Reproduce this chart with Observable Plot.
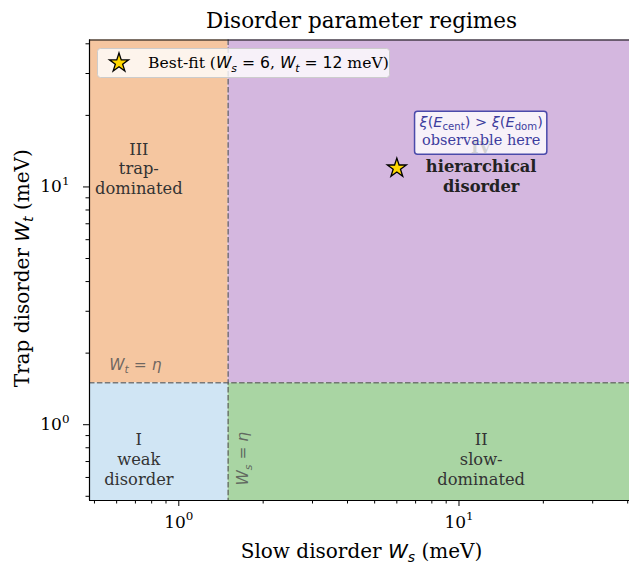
<!DOCTYPE html>
<html><head><meta charset="utf-8">
<script src="https://cdn.jsdelivr.net/npm/d3@7"></script>
<script src="https://cdn.jsdelivr.net/npm/@observablehq/plot@0.6"></script>
<style>
html,body{margin:0;padding:0;background:#fff;overflow:hidden}
svg{display:block}
</style></head><body><div id="chart"></div>
<script>
// ---- data ----
const eta = 1.5;
const xDomain = [0.48, 40.6];
const yDomain = [0.48, 41.5];
const regionIds = ["I", "II", "III", "IV"];
const regionNames = ["weak\ndisorder", "slow-\ndominated", "trap-\ndominated", "hierarchical\ndisorder"];
const regionColors = ["#d0e5f4", "#a9d5a3", "#f5c6a0", "#d4b7df"];
const regionLabelX = [0.72, 12, 0.72, 12];
const regionLabelY = [0.72, 0.72, 12, 12];
const bestFit = [{ws: 6, wt: 12}];
const majorTicks = [1, 10];
const minorTicks = [0.5, 0.6, 0.7, 0.8, 0.9, 2, 3, 4, 5, 6, 7, 8, 9, 20, 30, 40];
const titleText = "Disorder parameter regimes";
const xLabel = "Slow disorder W_s (meV)";
const yLabel = "Trap disorder W_t (meV)";
const annotLine1 = "ξ(E_cent) > ξ(E_dom)";
const annotLine2 = "observable here";
const annotPos = [{x: 12, y: 17.1}];
const legendLabel = "Best-fit (W_s = 6, W_t = 12 meV)";

// ---- derived tables ----
const lo = [xDomain[0], yDomain[0]], hi = [xDomain[1], yDomain[1]];
const regions = regionIds.map((id, i) => ({
  id, name: regionNames[i], color: regionColors[i],
  x1: (i % 2 === 0) ? lo[0] : eta, x2: (i % 2 === 0) ? eta : hi[0],
  y1: (i < 2) ? lo[1] : eta, y2: (i < 2) ? eta : hi[1],
  lx: regionLabelX[i], ly: regionLabelY[i]
}));
const plainRegions = regions.filter(d => d.id !== "IV");
const hierRegion = regions.filter(d => d.id === "IV");

const SERIF = "DejaVu Serif", SANS = "DejaVu Sans";
const dashStyle = {stroke: "#555", strokeOpacity: 0.75, strokeWidth: 1.5, strokeDasharray: "5.5,2.4"};

const plot = Plot.plot({
  width: 629, height: 562,
  marginLeft: 89, marginRight: 0, marginTop: 39.5, marginBottom: 62,
  x: {type: "log", domain: xDomain, label: null},
  y: {type: "log", domain: yDomain, label: null},
  color: {type: "identity"},
  style: {fontFamily: SERIF, background: "white", overflow: "visible"},
  marks: [
    Plot.rect(regions, {x1: "x1", x2: "x2", y1: "y1", y2: "y2", fill: "color"}),
    Plot.ruleX([eta], dashStyle),
    Plot.ruleY([eta], dashStyle),
    Plot.ruleX([xDomain[0]], {stroke: "black", strokeWidth: 1.2}),
    Plot.ruleY([yDomain[0], yDomain[1]], {stroke: "black", strokeWidth: 1.2}),
    Plot.axisX(minorTicks, {tickSize: 3.5, tickFormat: () => "", label: null, stroke: "black"}),
    Plot.axisY(minorTicks, {tickSize: 3.5, tickFormat: () => "", label: null, stroke: "black"}),
    Plot.axisX(majorTicks, {tickSize: 6, tickPadding: 9, tickFormat: d => "10^" + Math.round(Math.log10(d)), label: null, stroke: "black", fill: "black", fontSize: 17}),
    Plot.axisY(majorTicks, {tickSize: 6, tickPadding: 14, tickFormat: d => "10^" + Math.round(Math.log10(d)), label: null, stroke: "black", fill: "black", fontSize: 17}),
    Plot.text(plainRegions, {x: "lx", y: "ly", text: d => d.id + "\n" + d.name, fontSize: 16.3, lineHeight: 1.22, fill: "#333", fontFamily: SERIF}),
    Plot.text(hierRegion, {x: "lx", y: "ly", dy: -2, text: d => d.id + "\n" + d.name, fontSize: 16.3, lineHeight: 1.22, fill: "#222", fontWeight: "bold", fontFamily: SERIF}),
    Plot.text([eta], {x: 0.7, y: d => d, dy: -18, text: () => "W_t = η", fontSize: 15.5, fill: "#555", fillOpacity: 0.85}),
    Plot.text([eta], {x: 1.7, y: 0.72, rotate: -90, text: () => "W_s = η", fontSize: 15.5, fill: "#555", fillOpacity: 0.85}),
    Plot.dot(bestFit, {x: "ws", y: "wt", symbol: "star", r: 6, fill: "gold", stroke: "black", strokeWidth: 1.3}),
    Plot.text(annotPos, {x: "x", y: "y", dy: -9, text: () => annotLine1, fontSize: 14.5, fill: "#3d3d9e"}),
    Plot.text(annotPos, {x: "x", y: "y", dy: 9, text: () => annotLine2, fontSize: 14.5, fill: "#3d3d9e", fontFamily: SERIF}),
    Plot.text([titleText], {frameAnchor: "top", dx: 2, dy: -27, text: d => d, fontSize: 21.5, fill: "black"}),
    Plot.text([xLabel], {frameAnchor: "bottom", dx: 2, dy: 57, text: d => d, fontSize: 20, fill: "black"}),
    Plot.text([yLabel], {frameAnchor: "left", textAnchor: "middle", dx: -67, dy: -2, rotate: -90, text: d => d, fontSize: 20, fill: "black"})
  ]
});
document.getElementById("chart").appendChild(plot);

// ---- rich text (math-like) ----
const S = "serif", M = "sans", MI = "sansit", SUBI = "subit", SUBR = "subrm", SUP = "sup";
const RICH = {
  [xLabel]: [["Slow disorder ", S], ["W", MI], ["s", SUBI], [" (meV)", S]],
  [yLabel]: [["Trap disorder ", S], ["W", MI], ["t", SUBI], [" (meV)", S]],
  "W_t = η": [["W", MI], ["t", SUBI], [" = ", M], ["η", MI]],
  "W_s = η": [["W", MI], ["s", SUBI], [" = ", M], ["η", MI]],
  [annotLine1]: [["ξ", MI], ["(", M], ["E", MI], ["cent", SUBR], [") > ", M], ["ξ", MI], ["(", M], ["E", MI], ["dom", SUBR], [")", M]],
  [legendLabel]: [["Best-fit (", S], ["W", MI], ["s", SUBI], [" = 6", M], [", ", S], ["W", MI], ["t", SUBI], [" = 12", M], [" meV)", S]],
  "10^0": [["10", S], ["0", SUP]],
  "10^1": [["10", S], ["1", SUP]]
};
const NS = "http://www.w3.org/2000/svg";
function rich(el, segs) {
  const base = parseFloat(getComputedStyle(el).fontSize) || 14;
  while (el.firstChild) el.removeChild(el.firstChild);
  let shift = 0;
  for (const [t, st] of segs) {
    const ts = document.createElementNS(NS, "tspan");
    let fs = base, target = 0, fam = SERIF, style = "normal";
    if (st === M) fam = SANS;
    if (st === MI) { fam = SANS; style = "italic"; }
    if (st === SUBI) { fam = SANS; style = "italic"; fs = base * 0.7; target = base * 0.22; }
    if (st === SUBR) { fam = SANS; fs = base * 0.7; target = base * 0.22; }
    if (st === SUP) { fam = SERIF; fs = base * 0.7; target = -base * 0.42; }
    ts.setAttribute("font-family", fam);
    ts.setAttribute("font-style", style);
    ts.setAttribute("font-size", fs);
    if (target - shift !== 0) ts.setAttribute("dy", target - shift);
    shift = target;
    ts.textContent = t;
    el.appendChild(ts);
  }
}
const annNodes = [];
d3.select(plot).selectAll("text").each(function () {
  const key = this.textContent;
  if (key === annotLine1 || key === annotLine2) annNodes.push(this);
  if (RICH[key] && this.children.length === 0) rich(this, RICH[key]);
});

// ---- annotation box behind annotation text ----
const svgRect = plot.getBoundingClientRect();
if (annNodes.length) {
  let x0 = Infinity, y0 = Infinity, x1 = -Infinity, y1 = -Infinity;
  annNodes.forEach(n => {
    const b = n.getBoundingClientRect();
    x0 = Math.min(x0, b.left - svgRect.left); y0 = Math.min(y0, b.top - svgRect.top);
    x1 = Math.max(x1, b.right - svgRect.left); y1 = Math.max(y1, b.bottom - svgRect.top);
  });
  const g = annNodes[0].parentNode;
  const r = document.createElementNS(NS, "rect");
  const pad = 4;
  r.setAttribute("x", x0 - pad); r.setAttribute("y", y0 - pad + 1);
  r.setAttribute("width", x1 - x0 + 2 * pad); r.setAttribute("height", y1 - y0 + 2 * pad + 1);
  r.setAttribute("rx", 3);
  r.setAttribute("fill", "white"); r.setAttribute("fill-opacity", 0.8);
  r.setAttribute("stroke", "#4a4aaa"); r.setAttribute("stroke-width", 1.5);
  g.parentNode.insertBefore(r, g);
}

// ---- legend ----
const lg = d3.select(plot).append("g");
lg.append("rect").attr("x", 97.5).attr("y", 48.5).attr("width", 292).attr("height", 29).attr("rx", 3)
  .attr("fill", "white").attr("fill-opacity", 0.8).attr("stroke", "#ccc").attr("stroke-width", 1);
lg.append("path").attr("d", d3.symbol(d3.symbolStar, Math.PI * 36)()).attr("transform", "translate(119,63)")
  .attr("fill", "gold").attr("stroke", "black").attr("stroke-width", 1.3);
const lt = lg.append("text").attr("x", 148).attr("y", 63).attr("dy", "0.35em").attr("text-anchor", "start")
  .attr("font-size", 15.6).attr("font-family", SERIF).attr("fill", "black").text(legendLabel);
rich(lt.node(), RICH[legendLabel]);
</script></body></html>
